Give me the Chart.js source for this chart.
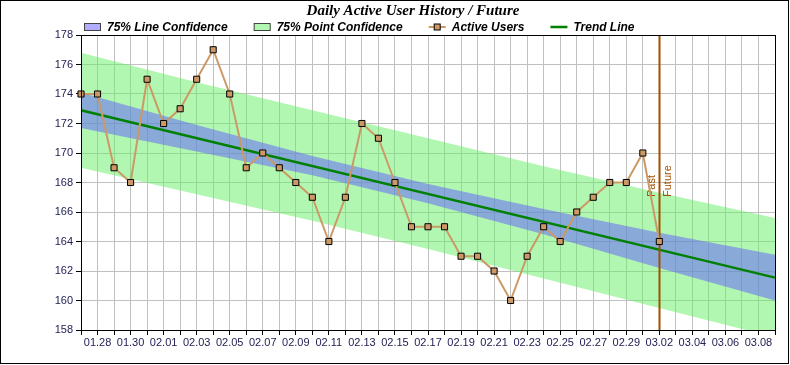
<!DOCTYPE html>
<html>
<head>
<meta charset="utf-8">
<script src="https://cdn.jsdelivr.net/npm/chart.js@4.4.0/dist/chart.umd.min.js"></script>
<style>
  body { margin: 0; background: #fff; }
  #wrap { width: 790px; height: 365px; position: relative; }
</style>
</head>
<body>
<div id="wrap"><canvas id="chart"></canvas></div>
<script>
// x axis days, 01.27 .. 03.09
const days = ['01.27','01.28','01.29','01.30','01.31',
  '02.01','02.02','02.03','02.04','02.05','02.06','02.07','02.08','02.09','02.10',
  '02.11','02.12','02.13','02.14','02.15','02.16','02.17','02.18','02.19','02.20',
  '02.21','02.22','02.23','02.24','02.25','02.26','02.27','02.28','02.29',
  '03.01','03.02','03.03','03.04','03.05','03.06','03.07','03.08','03.09'];

// history, 01.27 .. 03.02
const activeUsers = [174, 174, 169, 168, 175, 172, 173, 175, 177, 174,
  169, 170, 169, 168, 167, 164, 167, 172, 171, 168,
  165, 165, 165, 163, 163, 162, 160, 163, 165, 164,
  166, 167, 168, 168, 170, 164];

const trendDays = ['01.27', '03.09'];
const trendValues = [172.9, 161.55];

const bandDays = ['01.27','02.03','02.10','02.17','02.24','03.02','03.09'];
const lineConfUpper = [174.1, 171.9, 169.8, 167.9, 166.2, 164.6, 163.1];
const lineConfLower = [171.7, 170.1, 168.5, 166.6, 164.5, 162.2, 160.0];
const pointConfUpper = [176.8, 174.8, 172.9, 171.0, 169.1, 167.3, 165.6];
const pointConfLower = [169.0, 167.2, 165.4, 163.5, 161.5, 159.5, 157.5];

const dividerDay = '03.02';

const yMin = 158, yMax = 178, yStep = 2;

const tan = '#cc9966';
const green = '#008000';
const blueBand = 'rgba(98,92,255,0.5)';
const greenBand = 'rgba(100,240,100,0.5)';
const brown = '#a05000';
const sans = '"Liberation Sans", Arial, sans-serif';

const pts = (xs, ys) => xs.map((d, i) => ({ x: d, y: ys[i] }));

const legendItems = [
  { text: '75% Line Confidence', type: 'box', color: blueBand },
  { text: '75% Point Confidence', type: 'box', color: greenBand },
  { text: 'Active Users', type: 'marker', color: tan },
  { text: 'Trend Line', type: 'line', color: green }
];

const extras = {
  id: 'extras',
  beforeDraw(chart) {
    const ctx = chart.ctx;
    ctx.save();
    ctx.fillStyle = '#fff';
    ctx.fillRect(0, 0, chart.width, chart.height);
    ctx.restore();
  },
  beforeDatasetDraw(chart, args) {
    if (args.index !== 0) return;
    const ctx = chart.ctx;
    const a = chart.chartArea;
    const x = Math.round(chart.scales.x.getPixelForValue(days.indexOf(dividerDay))) + 0.5;
    ctx.save();
    ctx.strokeStyle = brown;
    ctx.lineWidth = 2;
    ctx.beginPath();
    ctx.moveTo(x, a.top);
    ctx.lineTo(x, a.bottom);
    ctx.stroke();
    ctx.font = '11px ' + sans;
    ctx.fillStyle = brown;
    ctx.translate(x, 197);
    ctx.rotate(-Math.PI / 2);
    ctx.textAlign = 'left';
    ctx.textBaseline = 'bottom';
    ctx.fillText('Past', 0, -2);
    ctx.textBaseline = 'top';
    ctx.fillText('Future', 0, 3);
    ctx.restore();
  },
  afterDraw(chart) {
    const ctx = chart.ctx;
    const a = chart.chartArea;
    ctx.save();
    // plot frame
    ctx.strokeStyle = '#000';
    ctx.lineWidth = 1;
    ctx.strokeRect(Math.round(a.left) + 0.5, Math.round(a.top) + 0.5,
      Math.round(a.right - a.left), Math.round(a.bottom - a.top));
    // outer border
    ctx.strokeRect(0.5, 0.5, 788, 363);

    // legend
    ctx.font = 'italic bold 12px ' + sans;
    ctx.textBaseline = 'middle';
    ctx.textAlign = 'left';
    let x = 84;
    const y = 27;
    legendItems.forEach(it => {
      if (it.type === 'box') {
        ctx.fillStyle = '#fff';
        ctx.fillRect(x, y - 4, 17, 8);
        ctx.fillStyle = it.color;
        ctx.fillRect(x, y - 4, 17, 8);
        ctx.strokeStyle = '#444';
        ctx.strokeRect(x + 0.5, y - 3.5, 16, 7);
      } else {
        ctx.strokeStyle = it.color;
        ctx.lineWidth = it.type === 'line' ? 2.5 : 2;
        ctx.beginPath();
        ctx.moveTo(x, y);
        ctx.lineTo(x + 17, y);
        ctx.stroke();
        ctx.lineWidth = 1;
        if (it.type === 'marker') {
          ctx.fillStyle = it.color;
          ctx.fillRect(x + 5.5, y - 3, 6, 6);
          ctx.strokeStyle = '#000';
          ctx.strokeRect(x + 5.5, y - 3, 6, 6);
        }
      }
      ctx.fillStyle = '#000';
      ctx.fillText(it.text, x + 23, y + 0.5);
      x += 23 + ctx.measureText(it.text).width + 26;
    });
    ctx.restore();
  }
};

new Chart(document.getElementById('chart'), {
  type: 'line',
  data: {
    labels: days,
    datasets: [
      {
        label: 'Active Users',
        data: activeUsers,
        borderColor: tan,
        borderWidth: 2,
        pointStyle: 'rect',
        pointRadius: 4.3,
        pointBackgroundColor: tan,
        pointBorderColor: '#000',
        pointBorderWidth: 1,
        tension: 0,
        fill: false
      },
      {
        label: 'Trend Line',
        data: pts(trendDays, trendValues),
        borderColor: green,
        borderWidth: 2.5,
        pointRadius: 0,
        fill: false
      },
      {
        label: '75% Line Confidence',
        data: pts(bandDays, lineConfUpper),
        borderWidth: 0,
        pointRadius: 0,
        backgroundColor: blueBand,
        fill: '+1'
      },
      {
        label: 'line lower',
        data: pts(bandDays, lineConfLower),
        borderWidth: 0,
        pointRadius: 0,
        fill: false
      },
      {
        label: '75% Point Confidence',
        data: pts(bandDays, pointConfUpper),
        borderWidth: 0,
        pointRadius: 0,
        backgroundColor: greenBand,
        fill: '+1'
      },
      {
        label: 'point lower',
        data: pts(bandDays, pointConfLower),
        borderWidth: 0,
        pointRadius: 0,
        fill: false
      }
    ]
  },
  options: {
    responsive: true,
    maintainAspectRatio: false,
    animation: false,
    layout: { padding: { left: 51, right: 15, top: 0, bottom: 0 } },
    plugins: {
      legend: { display: false },
      tooltip: { enabled: false },
      title: {
        display: true,
        text: 'Daily Active User History / Future',
        color: '#000',
        font: { family: '"Liberation Serif", "Times New Roman", serif', size: 15, style: 'italic', weight: 'bold' },
        padding: { top: 2, bottom: 15 }
      }
    },
    scales: {
      x: {
        type: 'category',
        offset: false,
        grid: { color: '#c0c0c0', tickColor: '#000', tickLength: 5 },
        border: { color: '#000' },
        ticks: {
          autoSkip: false,
          maxRotation: 0,
          padding: 1,
          color: '#222255',
          font: { family: sans, size: 11 },
          callback: (v, i) => (i % 2 === 1 ? days[i] : '')
        },
        afterFit: s => { s.height = 35; }
      },
      y: {
        min: yMin,
        max: yMax,
        grid: { color: '#c0c0c0', tickColor: '#000', tickLength: 5 },
        border: { color: '#000' },
        ticks: {
          stepSize: yStep,
          padding: 3,
          color: '#222255',
          font: { family: sans, size: 11 }
        },
        afterFit: s => { s.width = 30; }
      }
    }
  },
  plugins: [extras]
});
</script>
</body>
</html>
